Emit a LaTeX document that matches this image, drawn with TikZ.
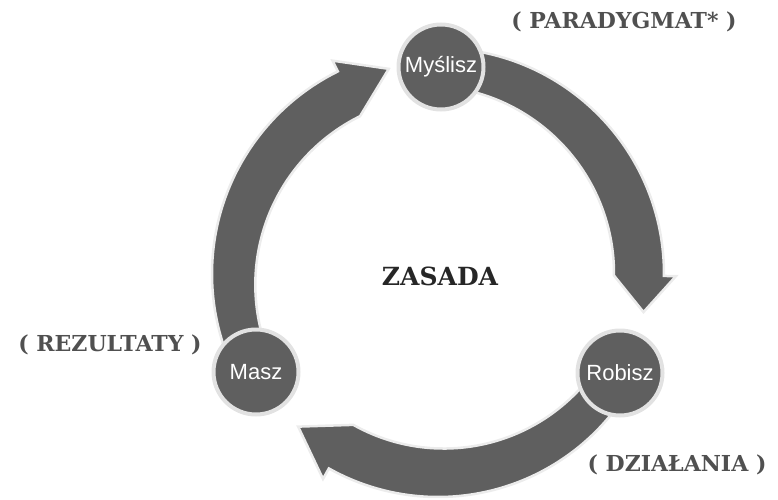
\documentclass[tikz,border=0pt]{standalone}
\usepackage{fontspec}
\newfontfamily\nodefont{Liberation Sans}
\newfontfamily\labelfont{DejaVu Serif}
\definecolor{dk}{RGB}{95,95,95}
\definecolor{ring}{RGB}{226,226,226}
\definecolor{glow}{RGB}{236,236,236}
\definecolor{lbl}{RGB}{80,80,80}
\newcommand\cyclearrow[5]{% start, base, tip, band radius, tip radius
  \pgfmathsetmacro\ro{#4+19}\pgfmathsetmacro\ri{#4-19}%
  \pgfmathsetmacro\ho{#4+31}\pgfmathsetmacro\hi{#4-31}%
  \path[arrowshape] (#1:\ro) arc[start angle=#1, end angle=#2, radius=\ro]
    -- (#2:\ho) -- (#3:#5) -- (#2:\hi)
    arc[start angle=#2, end angle=#1, radius=\ri] -- cycle;}
\tikzset{
  arrowshape/.style={fill=dk, draw=glow, line width=2.5pt, line join=miter},
  stage/.style={circle, fill=dk, draw=ring, line width=4pt, minimum size=85pt,
    inner sep=0pt, text=white, font=\nodefont\fontsize{22}{25}\selectfont},
  tag/.style={text=lbl, font=\labelfont\bfseries\fontsize{22}{26}\selectfont, inner sep=0pt},
}
\begin{document}
\begin{tikzpicture}[x=1pt,y=1pt]
\useasboundingbox (0,0) rectangle (778,499);
\begin{scope}[shift={(438,225)}]
  \cyclearrow{89}{-0.5}{-10.5}{207}{209}
  \cyclearrow{208}{116.3}{103.5}{207}{211}
  \cyclearrow{331.5}{240.7}{227.5}{204}{207}
\end{scope}
\node[stage] (m) at (441,432) {Myślisz};
\node[stage] (s) at (256,127) {Masz};
\node[stage] (r) at (620,126) {Robisz};
\node[tag] (p) at (624,477) {( PARADYGMAT* )};
\node[tag] (z) at (110,154) {( REZULTATY )};
\node[tag] (d) at (677,34) {( DZIAŁANIA )};
\node[font=\labelfont\bfseries\fontsize{25}{30}\selectfont, text=black!85, inner sep=0pt] (c) at (440,223) {ZASADA};
\end{tikzpicture}
\end{document}
